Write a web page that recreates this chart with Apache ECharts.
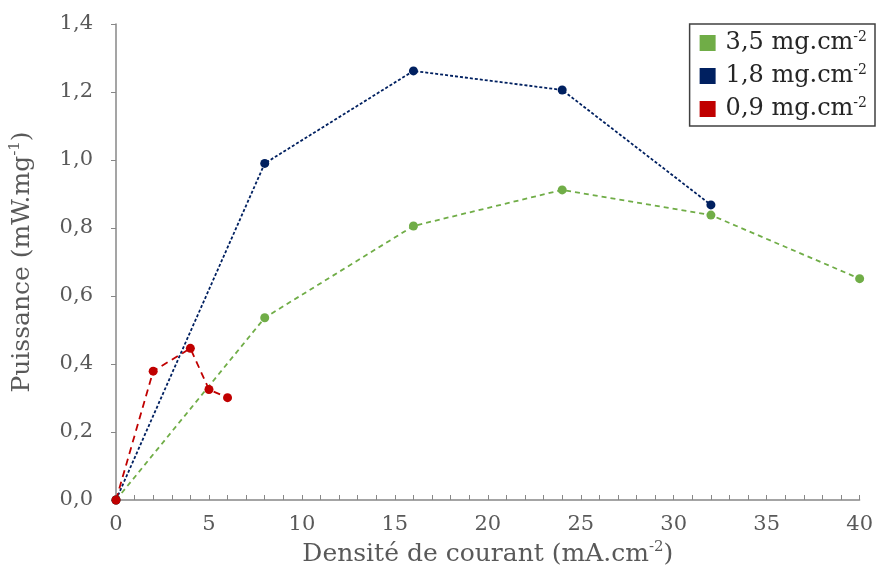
<!DOCTYPE html>
<html><head><meta charset="utf-8">
<script src="https://cdn.jsdelivr.net/npm/echarts@6/dist/echarts.min.js"></script>
<style>html,body{margin:0;padding:0;background:#fff}#c{width:876px;height:576px}</style>
</head><body><div id="c"></div>
<script>
const seriesNames = ['3,5 mg.cm-2', '1,8 mg.cm-2', '0,9 mg.cm-2'];
const x35 = [0, 8, 16, 24, 32, 40];
const y35 = [0, 0.536, 0.806, 0.912, 0.838, 0.651];
const x18 = [0, 8, 16, 24, 32];
const y18 = [0, 0.99, 1.262, 1.206, 0.868];
const x09 = [0, 2, 4, 5, 6];
const y09 = [0, 0.379, 0.446, 0.325, 0.301];
const colors = ['#70AD47', '#002060', '#C00000'];
const dashes = [[5, 4], [3, 2], [7, 5]];

const FONT = '"DejaVu Serif", "Liberation Serif", serif';
const pair = (xs, ys) => xs.map((x, i) => [x, ys[i]]);
const data = [pair(x35, y35), pair(x18, y18), pair(x09, y09)];

const chart = echarts.init(document.getElementById('c'));
chart.setOption({
  animation: false,
  textStyle: { fontFamily: FONT },
  grid: { left: 115, right: 16, top: 24, bottom: 76 },
  legend: {
    orient: 'vertical', right: 1, top: 24,
    data: seriesNames,
    icon: 'rect', itemWidth: 16, itemHeight: 16, itemGap: 8,
    borderColor: '#404040', borderWidth: 1.5, padding: [6, 8, 5, 10],
    formatter: n => { const p = n.split('-'); return '{m|' + p[0] + '}{s|-' + p[1] + '}'; },
    textStyle: {
      padding: [0, 0, 0, 5],
      rich: {
        m: { fontFamily: FONT, fontSize: 24, color: '#262626', lineHeight: 26 },
        s: { fontFamily: FONT, fontSize: 14, color: '#262626', verticalAlign: 'top', lineHeight: 26, padding: [0, 0, 9, 0] }
      }
    }
  },
  xAxis: {
    type: 'value', min: 0, max: 40, interval: 5,
    name: '{m|Densité de courant (mA.cm}{s|-2}{m|)}',
    nameLocation: 'middle', nameGap: 40,
    nameTextStyle: {
      rich: {
        m: { fontFamily: FONT, fontSize: 25, color: '#595959', lineHeight: 28 },
        s: { fontFamily: FONT, fontSize: 15, color: '#595959', verticalAlign: 'top', lineHeight: 28, padding: [0, 0, 9, 0] }
      }
    },
    axisLine: { lineStyle: { color: '#878787', width: 1.5 } },
    axisTick: { show: true, inside: true, length: 5, lineStyle: { color: '#878787' } },
    minorTick: { show: true, splitNumber: 5, length: 5, lineStyle: { color: '#878787' } },
    axisLabel: { fontFamily: FONT, fontSize: 21, color: '#595959', margin: 14 },
    splitLine: { show: false }
  },
  yAxis: {
    type: 'value', min: 0, max: 1.4, interval: 0.2,
    name: '{m|Puissance (mW.mg}{s|-1}{m|)}',
    nameLocation: 'middle', nameGap: 80, nameRotate: 90,
    nameTextStyle: {
      rich: {
        m: { fontFamily: FONT, fontSize: 25, color: '#595959', lineHeight: 28 },
        s: { fontFamily: FONT, fontSize: 15, color: '#595959', verticalAlign: 'top', lineHeight: 28, padding: [0, 0, 9, 0] }
      }
    },
    axisLine: { show: true, lineStyle: { color: '#878787', width: 1.5 } },
    axisTick: { show: true, inside: false, length: 5, lineStyle: { color: '#878787' } },
    axisLabel: { fontFamily: FONT, fontSize: 21, color: '#595959', margin: 23,
      formatter: v => v.toFixed(1).replace('.', ',') },
    splitLine: { show: false }
  },
  series: seriesNames.map((n, i) => ({
    name: n, type: 'line', data: data[i],
    symbol: 'circle', symbolSize: 9,
    itemStyle: { color: colors[i] },
    lineStyle: { color: colors[i], width: 1.8, type: dashes[i] },
    z: 2 + i
  }))
});
</script></body></html>
